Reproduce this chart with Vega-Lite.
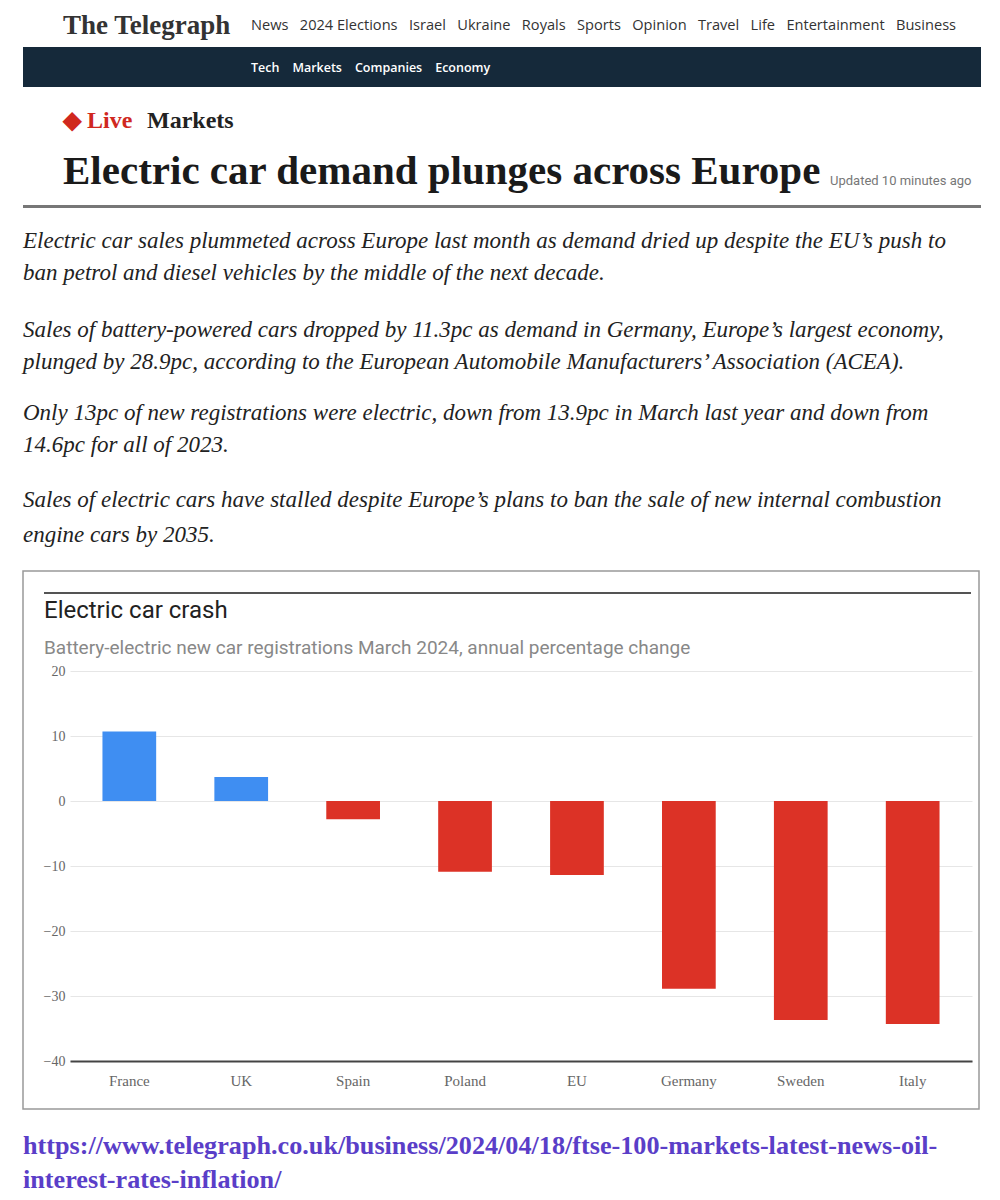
{
  "$schema": "https://vega.github.io/schema/vega-lite/v6.json",
  "background": "white",
  "padding": {"left": 22, "top": 0, "right": 0, "bottom": 0},
  "spacing": 0,
  "config": {
    "view": {"stroke": null},
    "concat": {"spacing": 0},
    "title": {"anchor": "start", "frame": "group", "fontWeight": "normal"}
  },
  "vconcat": [
    {
      "hconcat": [
        {
          "width": 228, "height": 47,
          "data": {"values": []}, "mark": "rect", "encoding": {},
          "title": {"text": "The Telegraph", "font": "Liberation Serif", "fontWeight": "bold", "fontSize": 27, "color": "#333333", "offset": -40, "dx": 40}
        },
        {
          "width": 730, "height": 47,
          "data": {"values": []}, "mark": "rect", "encoding": {},
          "title": {"text": "News\u00a0\u00a0\u00a02024 Elections\u00a0\u00a0\u00a0Israel\u00a0\u00a0\u00a0Ukraine\u00a0\u00a0\u00a0Royals\u00a0\u00a0\u00a0Sports\u00a0\u00a0\u00a0Opinion\u00a0\u00a0\u00a0Travel\u00a0\u00a0\u00a0Life\u00a0\u00a0\u00a0Entertainment\u00a0\u00a0\u00a0Business", "font": "Open Sans", "fontSize": 14.6, "color": "#333333", "offset": -33, "dx": 0}
        }
      ]
    },
    {
      "width": 958, "height": 40,
      "view": {"fill": "#15293a", "stroke": null},
      "data": {"values": []}, "mark": "rect", "encoding": {},
      "title": {"text": "Tech\u00a0\u00a0\u00a0\u00a0Markets\u00a0\u00a0\u00a0\u00a0Companies\u00a0\u00a0\u00a0\u00a0Economy", "font": "Open Sans", "fontWeight": 600, "fontSize": 12.5, "color": "#ffffff", "offset": -27, "dx": 228}
    },
    {
      "hconcat": [
        {
          "width": 120, "height": 50,
          "data": {"values": []}, "mark": "rect", "encoding": {},
          "title": {"text": "\u25c6 Live", "font": "Liberation Serif", "fontWeight": "bold", "fontSize": 24, "color": "#d0281e", "offset": -46, "dx": 40}
        },
        {
          "width": 838, "height": 50,
          "data": {"values": []}, "mark": "rect", "encoding": {},
          "title": {"text": "Markets", "font": "Liberation Serif", "fontWeight": "bold", "fontSize": 24, "color": "#222222", "offset": -46, "dx": 4}
        }
      ]
    },
    {
      "hconcat": [
        {
          "width": 805, "height": 68,
          "data": {"values": []}, "mark": "rect", "encoding": {},
          "title": {"text": "Electric car demand plunges across Europe", "font": "Liberation Serif", "fontWeight": "bold", "fontSize": 41, "color": "#1a1a1a", "offset": -56, "dx": 40}
        },
        {
          "width": 153, "height": 68,
          "data": {"values": []}, "mark": "rect", "encoding": {},
          "title": {"text": "Updated 10 minutes ago", "font": "Roboto", "fontSize": 13, "color": "#777777", "offset": -51, "dx": 2}
        }
      ]
    },
    {
      "width": 958, "height": 3,
      "view": {"fill": "#777777", "stroke": null},
      "data": {"values": []}, "mark": "rect", "encoding": {}
    },
    {
      "width": 958, "height": 90,
      "data": {"values": []}, "mark": "rect", "encoding": {},
      "title": {"text": ["Electric car sales plummeted across Europe last month as demand dried up despite the EU\u2019s push to", "ban petrol and diesel vehicles by the middle of the next decade."], "font": "Liberation Serif", "fontStyle": "italic", "fontSize": 23, "lineHeight": 32, "color": "#222222", "offset": -77, "dx": 0}
    },
    {
      "width": 958, "height": 85,
      "data": {"values": []}, "mark": "rect", "encoding": {},
      "title": {"text": ["Sales of battery-powered cars dropped by 11.3pc as demand in Germany, Europe\u2019s largest economy,", "plunged by 28.9pc, according to the European Automobile Manufacturers\u2019 Association (ACEA)."], "font": "Liberation Serif", "fontStyle": "italic", "fontSize": 23, "lineHeight": 32, "color": "#222222", "offset": -76, "dx": 0}
    },
    {
      "width": 958, "height": 87,
      "data": {"values": []}, "mark": "rect", "encoding": {},
      "title": {"text": ["Only 13pc of new registrations were electric, down from 13.9pc in March last year and down from", "14.6pc for all of 2023."], "font": "Liberation Serif", "fontStyle": "italic", "fontSize": 23, "lineHeight": 32, "color": "#222222", "offset": -74, "dx": 0}
    },
    {
      "width": 958, "height": 100,
      "data": {"values": []}, "mark": "rect", "encoding": {},
      "title": {"text": ["Sales of electric cars have stalled despite Europe\u2019s plans to ban the sale of new internal combustion", "engine cars by 2035."], "font": "Liberation Serif", "fontStyle": "italic", "fontSize": 23, "lineHeight": 35, "color": "#222222", "offset": -77, "dx": 0}
    },
    {
      "width": 956, "height": 538,
      "view": {"stroke": "#999999", "strokeWidth": 1.5},
      "title": {
        "text": "Electric car crash",
        "subtitle": "Battery-electric new car registrations March 2024, annual percentage change",
        "font": "Roboto", "fontSize": 24, "color": "#222222",
        "subtitleFont": "Roboto", "subtitleFontSize": 19, "subtitleColor": "#888888",
        "subtitlePadding": 16, "offset": -87, "dx": 21
      },
      "data": {"values": [
        {"country": "France", "change": 10.7},
        {"country": "UK", "change": 3.7},
        {"country": "Spain", "change": -2.8},
        {"country": "Poland", "change": -10.9},
        {"country": "EU", "change": -11.4},
        {"country": "Germany", "change": -28.9},
        {"country": "Sweden", "change": -33.7},
        {"country": "Italy", "change": -34.3}
      ]},
      "resolve": {"scale": {"x": "independent"}, "axis": {"x": "independent"}},
      "layer": [
        {
          "mark": {"type": "bar"},
          "encoding": {
            "x": {
              "field": "country", "type": "nominal", "sort": null,
              "scale": {"range": [47, 949], "paddingInner": 0.52, "paddingOuter": 0.29},
              "axis": {"title": null, "orient": "bottom", "offset": -48, "labelAngle": 0, "ticks": false, "labelPadding": 12, "labelFont": "Liberation Serif", "labelFontSize": 15, "labelColor": "#666666", "domainColor": "#444444", "domainWidth": 2, "grid": false}
            },
            "y": {
              "field": "change", "type": "quantitative",
              "scale": {"domain": [-40, 20], "range": [490, 100], "nice": false},
              "axis": {"title": null, "values": [-40, -30, -20, -10, 0, 10, 20], "offset": -47, "domain": false, "ticks": false, "labelPadding": 5, "labelFont": "Liberation Serif", "labelFontSize": 14, "labelColor": "#666666", "gridColor": "#e6e6e6", "gridWidth": 1}
            },
            "color": {"condition": {"test": "datum.change > 0", "value": "#3f8ef2"}, "value": "#dc3226"}
          }
        },
        {
          "mark": {"type": "rule", "color": "#555555", "strokeWidth": 1.5},
          "encoding": {
            "x": {"datum": 0, "type": "quantitative", "scale": {"domain": [0, 1], "range": [21, 948]}, "axis": null},
            "x2": {"datum": 1},
            "y": {"datum": 32, "type": "quantitative"}
          }
        }
      ]
    },
    {
      "width": 958, "height": 92,
      "data": {"values": []}, "mark": "rect", "encoding": {},
      "title": {"text": ["https://www.telegraph.co.uk/business/2024/04/18/ftse-100-markets-latest-news-oil-", "interest-rates-inflation/"], "font": "Liberation Serif", "fontWeight": "bold", "fontSize": 26.2, "lineHeight": 34, "color": "#5a3ec8", "offset": -83, "dx": 0}
    }
  ]
}
